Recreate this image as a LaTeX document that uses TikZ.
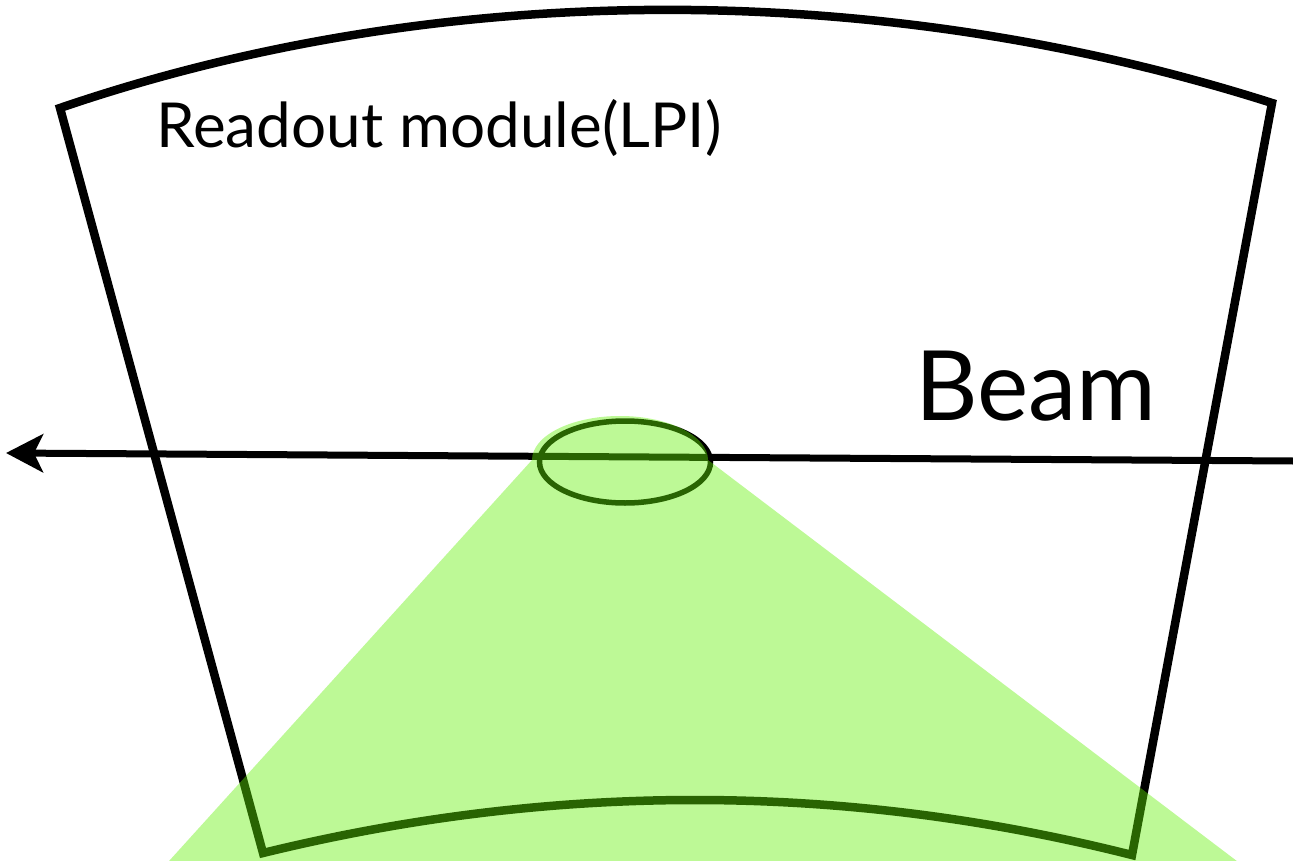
\documentclass[tikz,border=0pt]{standalone}
\usepackage{fontspec}
\setmainfont{Lato}
\usetikzlibrary{arrows.meta,shapes.geometric}
\definecolor{conegreen}{RGB}{98,240,5}
\tikzset{
  frame/.style={line width=8.5pt, line join=miter},
  beamline/.style={line width=7pt, -{Stealth[length=37pt,width=38pt,inset=9pt]}},
  spot/.style={line width=5.5pt},
  cone/.style={fill=conegreen, fill opacity=0.42},
  lbl/.style={inner sep=0pt, anchor=base west}
}
\begin{document}
\begin{tikzpicture}[x=1pt,y=-1pt]
\useasboundingbox (0,0) rectangle (1293,861);
\clip (0,0) rectangle (1293,861);
% readout module frame
\draw[frame] (60,108) .. controls (440,-22) and (880,-22) .. (1272,103)
  -- (1132,855) .. controls (843,782) and (553,782) .. (263,853) -- cycle;
% beam
\coordinate (bstart) at (1293,461);
\coordinate (bend) at (6,453);
\draw[beamline] (bstart) -- (bend);
% beam spot
\node[draw, spot, ellipse, minimum width=171pt, minimum height=82pt, inner sep=0pt] (spotnode) at (625,462) {};
% green cone
\path[cone] (532,460) arc[start angle=180, end angle=360, x radius=88, y radius=44]
  -- (1250,871) -- (160,871) -- cycle;
% labels
\node[lbl, font=\fontsize{62}{68}\selectfont] (mod) at (156,148) {Readout module(LPI)};
\node[lbl, font=\fontsize{97}{102}\selectfont] (beam) at (915,420) {Beam};
\end{tikzpicture}
\end{document}
